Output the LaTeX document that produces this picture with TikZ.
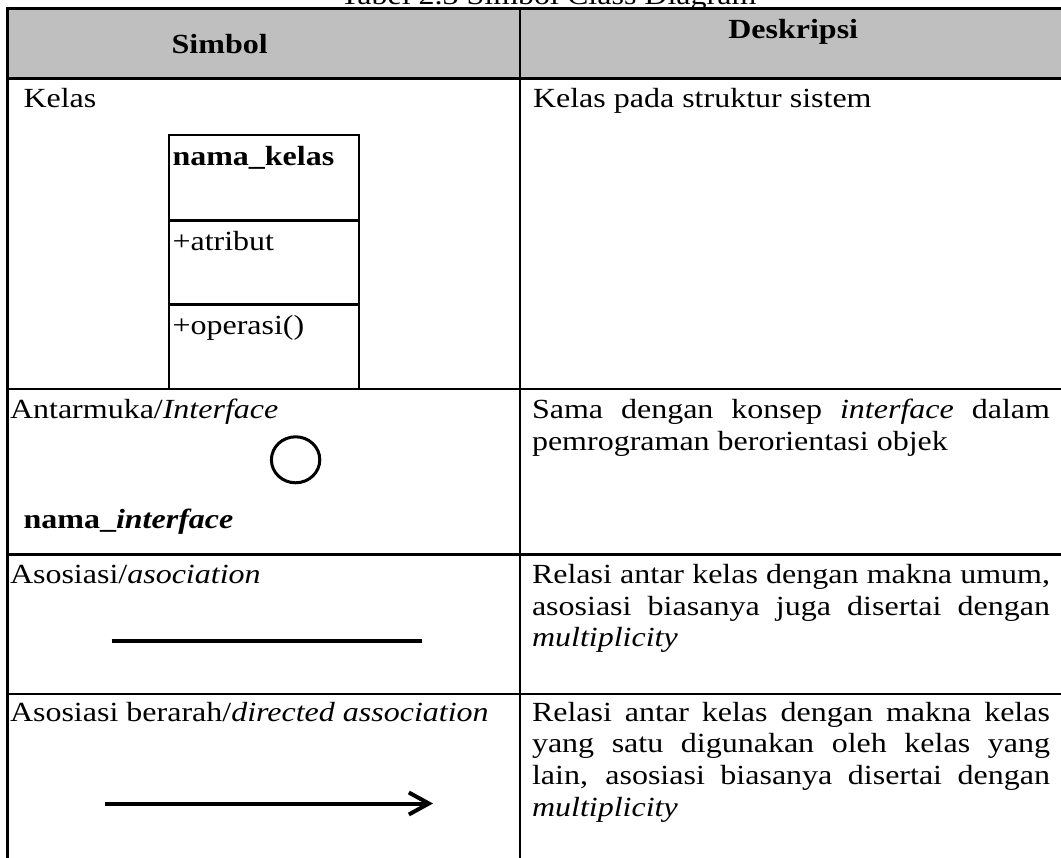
\documentclass[tikz,border=0pt]{standalone}
\usepackage{fontspec}
\setmainfont{Liberation Serif}
\usetikzlibrary{arrows.meta}
\definecolor{hdrgray}{RGB}{191,191,191}
\tikzset{
  txt/.style={inner sep=0pt, outer sep=0pt, anchor=base west, yscale=0.865,
    font=\fontsize{32}{36.8}\selectfont},
  btxt/.style={txt, font=\fontsize{32}{36.8}\selectfont\bfseries},
  rule/.style={line width=2.6pt, black},
  boxline/.style={line width=2.2pt, black},
  assoc/.style={line width=4pt, black},
}
\newcommand{\jline}[1]{\makebox[518pt][s]{#1}}
\begin{document}
\begin{tikzpicture}[x=1pt,y=-1pt]
\useasboundingbox (0,0) rectangle (1061,858);
\clip (0,0) rectangle (1061,858);
% caption (cut off at the top)
\node[txt] (cap) at (340,4.5) {Tabel 2.3 Simbol Class Diagram};
% header background
\fill[hdrgray] (7.5,8.3) rectangle (1061,78.3);
% table rules
\draw[rule] (6.2,8.3) -- (1061,8.3);
\draw[rule] (6.2,78.3) -- (1061,78.3);
\draw[rule] (6.2,389) -- (1061,389);
\draw[rule] (6.2,554.4) -- (1061,554.4);
\draw[rule] (6.2,694) -- (1061,694);
\draw[rule] (7.5,7) -- (7.5,858);
\draw[rule] (520,7) -- (520,858);
% header
\node[btxt] (hsym) at (171.7,53.3) {Simbol};
\node[btxt] (hdesc) at (728.3,38.3) {Deskripsi};
% row 1: class
\node[txt] (r1l) at (23.5,108) {Kelas};
\node[txt] (r1r) at (533,108) {Kelas pada struktur sistem};
\draw[boxline] (169.3,135) rectangle (359,389);
\draw[boxline] (169.3,220.5) -- (359,220.5);
\draw[boxline] (169.3,304.5) -- (359,304.5);
\node[btxt] (cname) at (172.5,166) {nama\_kelas};
\node[txt] (cattr) at (172.5,251) {+atribut};
\node[txt] (cop) at (172.5,335) {+operasi()};
% row 2: interface
\node[txt] (r2l) at (10,419) {Antarmuka/\textit{Interface}};
\draw[line width=3pt] (295.6,459.8) ellipse [x radius=24.2, y radius=23];
\node[btxt] (iname) at (23.6,529) {nama\_\textit{interface}};
\node[txt] (r2ra) at (532,419) {\jline{Sama dengan konsep \textit{interface} dalam}};
\node[txt] (r2rb) at (532,450.7) {pemrograman berorientasi objek};
% row 3: association
\node[txt] (r3l) at (10,583.5) {Asosiasi/\textit{asociation}};
\coordinate (a1) at (111.5,641.3);
\coordinate (a2) at (422.3,641.3);
\draw[assoc] (a1) -- (a2);
\node[txt] (r3ra) at (532,583.5) {\jline{Relasi antar kelas dengan makna umum,}};
\node[txt] (r3rb) at (532,615.2) {\jline{asosiasi biasanya juga disertai dengan}};
\node[txt] (r3rc) at (532,646.9) {\textit{multiplicity}};
% row 4: directed association
\node[txt] (r4l) at (10,721) {Asosiasi berarah/\textit{directed association}};
\coordinate (b1) at (104.7,803.5);
\coordinate (b2) at (433,803.5);
\draw[assoc, -{Straight Barb[length=20pt,width=22pt]}] (b1) -- (b2);
\node[txt] (r4ra) at (532,721) {\jline{Relasi antar kelas dengan makna kelas}};
\node[txt] (r4rb) at (532,752.7) {\jline{yang satu digunakan oleh kelas yang}};
\node[txt] (r4rc) at (532,784.4) {\jline{lain, asosiasi biasanya disertai dengan}};
\node[txt] (r4rd) at (532,816.1) {\textit{multiplicity}};
\end{tikzpicture}
\end{document}
